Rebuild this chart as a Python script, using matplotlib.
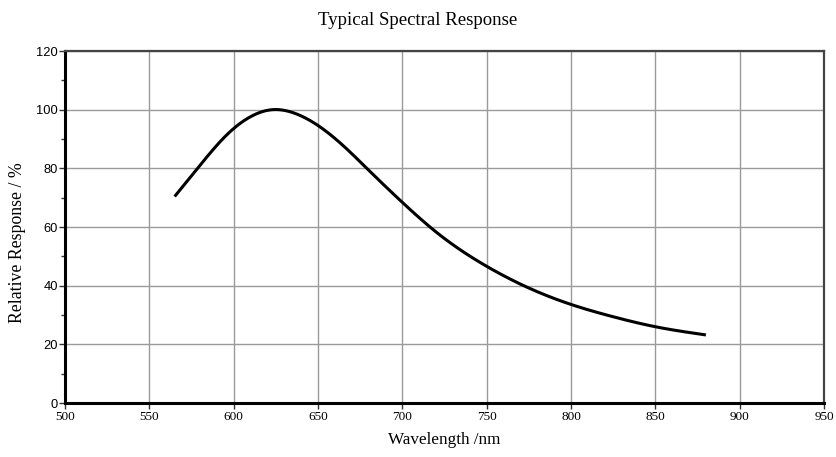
import matplotlib
matplotlib.use("Agg")
import matplotlib.pyplot as plt
import numpy as np
from matplotlib.ticker import MultipleLocator

wavelength = [565, 580, 595, 610, 623, 637, 650, 665, 680, 700, 720, 750, 775, 800, 825, 850, 880]
response = [70.4, 81.0, 90.9, 97.6, 100.0, 98.6, 94.6, 87.7, 79.4, 68.4, 58.3, 46.6, 39.2, 33.6, 29.4, 26.0, 23.2]
x_ticks = [500, 550, 600, 650, 700, 750, 800, 850, 900, 950]
y_ticks = [0, 20, 40, 60, 80, 100, 120]


def natural_spline(xs, ys, n=800):
    xs = np.asarray(xs, float); ys = np.asarray(ys, float)
    k = len(xs)
    h = np.diff(xs)
    A = np.zeros((k, k)); b = np.zeros(k)
    A[0, 0] = 1; A[-1, -1] = 1
    for i in range(1, k - 1):
        A[i, i - 1] = h[i - 1]
        A[i, i] = 2 * (h[i - 1] + h[i])
        A[i, i + 1] = h[i]
        b[i] = 3 * ((ys[i + 1] - ys[i]) / h[i] - (ys[i] - ys[i - 1]) / h[i - 1])
    c = np.linalg.solve(A, b)
    bb = (ys[1:] - ys[:-1]) / h - h * (2 * c[:-1] + c[1:]) / 3
    d = (c[1:] - c[:-1]) / (3 * h)
    xx = np.linspace(xs[0], xs[-1], n)
    idx = np.clip(np.searchsorted(xs, xx) - 1, 0, k - 2)
    dx = xx - xs[idx]
    yy = ys[idx] + bb[idx] * dx + c[idx] * dx ** 2 + d[idx] * dx ** 3
    return xx, yy


serif = ["Liberation Serif", "DejaVu Serif"]

W, H = 836, 457
fig = plt.figure(figsize=(W / 100, H / 100), dpi=100)
left, right, top, bottom = 65, 824, 51, 403
ax = fig.add_axes([left / W, 1 - bottom / H, (right - left) / W, (bottom - top) / H])

sx, sy = natural_spline(wavelength, response)
ax.plot(sx, sy, color="black", lw=2.2, solid_capstyle="butt", zorder=3)

ax.set_xlim(500, 950)
ax.set_ylim(0, 120)
ax.set_xticks(x_ticks)
ax.set_yticks(y_ticks)
ax.yaxis.set_minor_locator(MultipleLocator(10))
ax.grid(True, which="major", color="#9a9a9a", lw=1.0)
ax.set_axisbelow(True)

ax.tick_params(axis="x", which="major", direction="out", length=4, width=1, color="#333333",
               pad=2, labelsize=9.5, labelfontfamily="Liberation Serif")
ax.tick_params(axis="y", which="major", direction="out", length=4, width=1, color="#333333",
               pad=1, labelsize=9.3, labelfontfamily="Liberation Sans")
ax.tick_params(axis="y", which="minor", direction="out", length=3, width=1, color="#333333")

ax.spines["left"].set_linewidth(2.2)
ax.spines["bottom"].set_linewidth(2.2)
ax.spines["top"].set_linewidth(1.6)
ax.spines["right"].set_linewidth(1.6)
ax.spines["top"].set_color("#444444")
ax.spines["right"].set_color("#444444")

fig.text(0.5, 1 - 25 / H, "Typical Spectral Response", family=serif, fontsize=13.5,
         ha="center", va="baseline")
ax.set_xlabel("Wavelength /nm", family=serif, fontsize=12.3, labelpad=6)
ax.set_ylabel("Relative Response / %", family=serif, fontsize=12.8)
ax.yaxis.set_label_coords(-0.052, 0.455)

fig.savefig("out.png", dpi=100)
